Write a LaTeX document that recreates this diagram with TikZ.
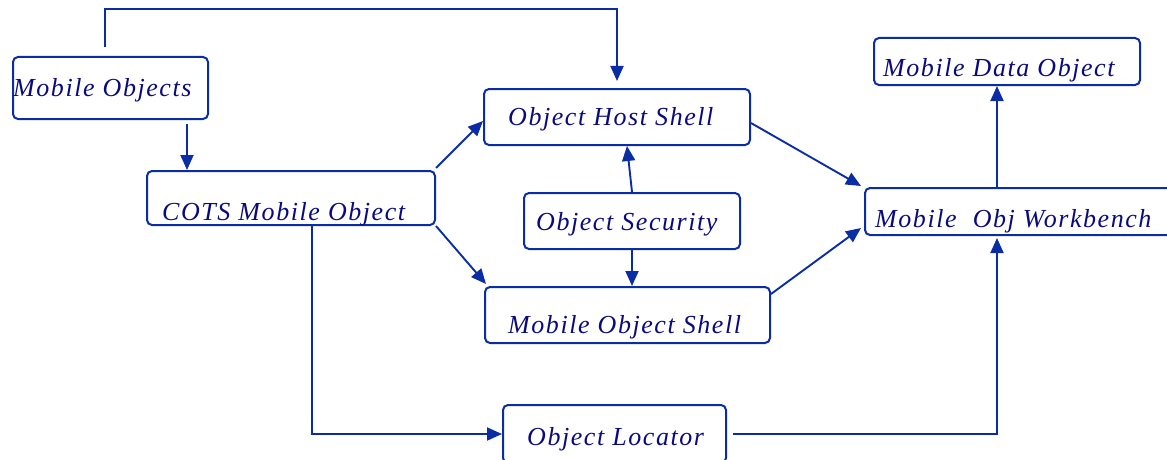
\documentclass[tikz,border=0pt]{standalone}
\usepackage{fontspec}
\setmainfont{Liberation Serif}
\newfontfamily\boxfont[LetterSpace=6]{Liberation Serif}
\usetikzlibrary{arrows.meta}
\definecolor{linecol}{RGB}{10,45,165}
\definecolor{textcol}{RGB}{10,10,125}
\tikzset{
    box/.style={draw=linecol, line width=2pt, rounded corners=5pt, inner sep=0pt},
    boxtext/.style={text=textcol, inner sep=0pt, anchor=base west, font=\boxfont\itshape\fontsize{26}{30}\selectfont},
    conn/.style={draw=linecol, line width=1.9pt, -{Triangle[length=15pt,width=13pt]}}
}
\begin{document}
\begin{tikzpicture}[x=1pt,y=-1pt]
    \useasboundingbox (0,0) rectangle (1167,460);
    % boxes
    \node[box, minimum width=195, minimum height=62] (mobobj) at (110.5,88) {};
    \node[box, minimum width=288, minimum height=54] (cots) at (291,198) {};
    \node[box, minimum width=266, minimum height=56] (hostshell) at (617,117) {};
    \node[box, minimum width=216, minimum height=56] (security) at (632,221) {};
    \node[box, minimum width=285, minimum height=56] (mosshell) at (627.5,315) {};
    \node[box, minimum width=266, minimum height=47] (dataobj) at (1007,61.5) {};
    \node[box, minimum width=307, minimum height=47] (workbench) at (1018.5,211.5) {};
    \node[box, minimum width=223, minimum height=58] (locator) at (614.5,434) {};
    % texts
    \node[boxtext] (mobobj-t) at (13,96) {Mobile Objects};
    \node[boxtext] (cots-t) at (162,220) {COTS Mobile Object};
    \node[boxtext] (hostshell-t) at (508,125) {Object Host Shell};
    \node[boxtext] (security-t) at (536,230) {Object Security};
    \node[boxtext] (mosshell-t) at (508,333) {Mobile Object Shell};
    \node[boxtext] (dataobj-t) at (883,77) {Mobile Data Object};
    \node[boxtext] (workbench-t) at (875,227) {Mobile\ \ Obj Workbench};
    \node[boxtext] (locator-t) at (527,445) {Object Locator};
    % connectors
    \coordinate (top) at (300,9);
    \draw[conn, shorten >=7pt] ([xshift=-5.5pt,yshift=9pt]mobobj.north) |- (top) -| (hostshell.north);
    \draw[conn] ([xshift=76.5pt,yshift=-4pt]mobobj.south) -- ([xshift=-104pt]cots.north);
    \draw[conn] ([yshift=2pt]cots.north east) -- ([yshift=-4pt]hostshell.west);
    \draw[conn] (cots.south east) -- ([xshift=2pt,yshift=2pt]mosshell.north west);
    \draw[conn] (security.north) -- ([xshift=10pt]hostshell.south);
    \draw[conn] (security.south) -- (security.south |- mosshell.north);
    \draw[conn] ([yshift=-6pt]hostshell.east) -- ([xshift=-3pt,yshift=1pt]workbench.north west);
    \draw[conn] ([yshift=-8pt]mosshell.north east) -- ([xshift=-3pt,yshift=8pt]workbench.south west);
    \draw[conn] ([xshift=-21.5pt]workbench.north) -- ([xshift=-10pt]dataobj.south);
    \draw[conn] ([xshift=21pt]cots.south) |- (locator.west);
    \draw[conn, shorten <=6pt] (locator.east) -| ([xshift=-21.5pt,yshift=-2pt]workbench.south);
\end{tikzpicture}
\end{document}
